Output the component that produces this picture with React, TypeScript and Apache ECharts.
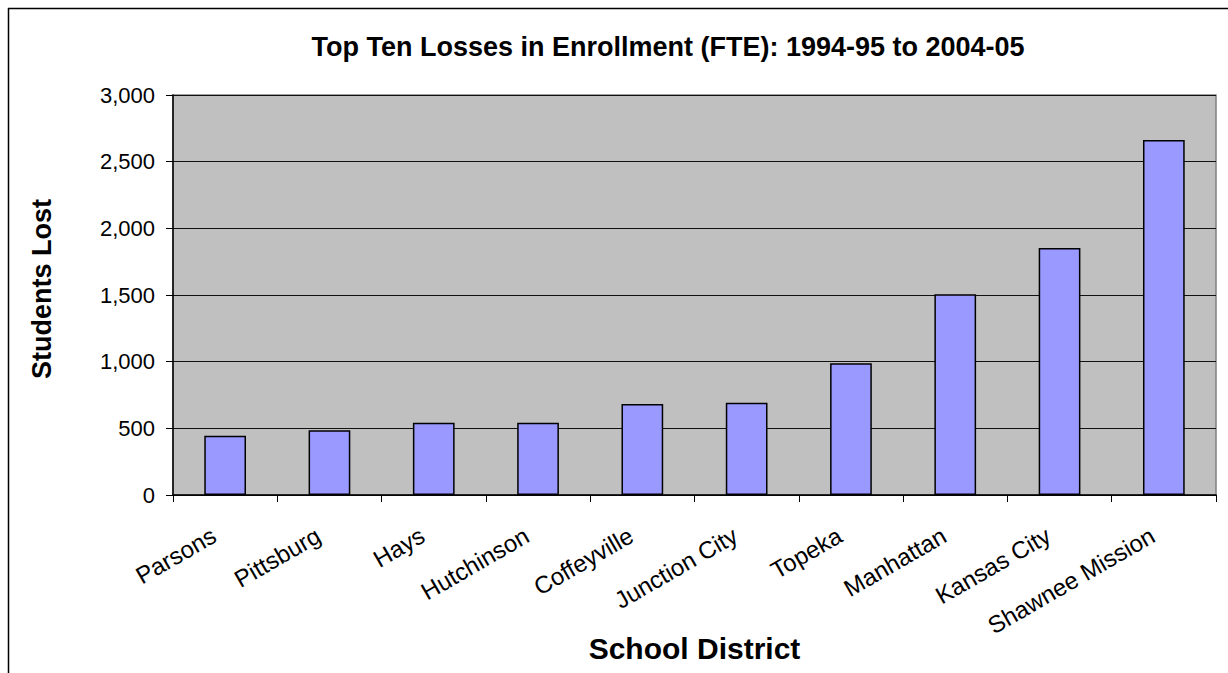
import React, { useEffect, useRef } from "react";
import * as echarts from "echarts";

const categories = [
  "Parsons",
  "Pittsburg",
  "Hays",
  "Hutchinson",
  "Coffeyville",
  "Junction City",
  "Topeka",
  "Manhattan",
  "Kansas City",
  "Shawnee Mission",
];
const studentsLost = [445, 485, 542, 542, 682, 692, 988, 1505, 1852, 2662];
const titleText = "Top Ten Losses in Enrollment (FTE): 1994-95 to 2004-05";
const xName = "School District";
const yName = "Students Lost";

const FONT = "'Liberation Sans', Arial, sans-serif";

export default function App() {
  const ref = useRef<HTMLDivElement>(null);
  useEffect(() => {
    if (!ref.current) return;
    const chart = echarts.init(ref.current, null, { renderer: "svg" });
    chart.setOption({
      animation: false,
      backgroundColor: "#fff",
      title: {
        text: titleText,
        left: 668,
        top: 33,
        padding: 0,
        textAlign: "center",
        textStyle: { fontFamily: FONT, fontSize: 27, fontWeight: "bold", color: "#000" },
      },
      grid: {
        left: 173,
        top: 95,
        width: 1043,
        height: 400,
        containLabel: false,
        outerBoundsMode: "none",
        show: true,
        backgroundColor: "#C0C0C0",
        borderColor: "#808080",
        borderWidth: 1.5,
      },
      xAxis: {
        type: "category",
        data: categories,
        name: xName,
        nameLocation: "middle",
        nameGap: 138,
        nameMoveOverlap: false,
        nameTextStyle: { fontFamily: FONT, fontSize: 30, fontWeight: "bold", color: "#000" },
        axisLine: { lineStyle: { color: "#000", width: 1.5 } },
        axisTick: { show: true, length: 7, lineStyle: { color: "#000", width: 1 } },
        axisLabel: {
          rotate: 30,
          margin: 32,
          padding: [0, 13, 0, 0],
          fontFamily: FONT,
          fontSize: 24,
          color: "#000",
          interval: 0,
        },
        splitLine: { show: false },
      },
      yAxis: {
        type: "value",
        min: 0,
        max: 3000,
        interval: 500,
        name: yName,
        nameLocation: "middle",
        nameGap: 118,
        nameRotate: 90,
        nameMoveOverlap: false,
        nameTextStyle: {
          fontFamily: FONT,
          fontSize: 27,
          fontWeight: "bold",
          color: "#000",
          padding: [0, 0, 0, 12],
        },
        axisLine: { show: true, lineStyle: { color: "#000", width: 1.5 } },
        axisTick: { show: true, length: 7, lineStyle: { color: "#000", width: 1 } },
        axisLabel: {
          margin: 18,
          fontFamily: FONT,
          fontSize: 22,
          color: "#000",
          formatter: (v: number) => v.toLocaleString("en-US"),
        },
        splitLine: { show: true, lineStyle: { color: "#111", width: 1.2 } },
      },
      graphic: [
        { type: "line", shape: { x1: 8, y1: 8.5, x2: 1240, y2: 8.5 }, style: { stroke: "#000", lineWidth: 1.5 } },
        { type: "line", shape: { x1: 8.5, y1: 8, x2: 8.5, y2: 700 }, style: { stroke: "#000", lineWidth: 1.5 } },
      ],
      series: [
        {
          type: "bar",
          data: studentsLost,
          barWidth: "40%",
          itemStyle: { color: "#9999FF", borderColor: "#000", borderWidth: 1.5 },
        },
      ],
    });
    return () => chart.dispose();
  }, []);
  return (
    <div
      ref={ref}
      style={{ position: "fixed", left: 0, top: 0, width: 1228, height: 673 }}
    />
  );
}
